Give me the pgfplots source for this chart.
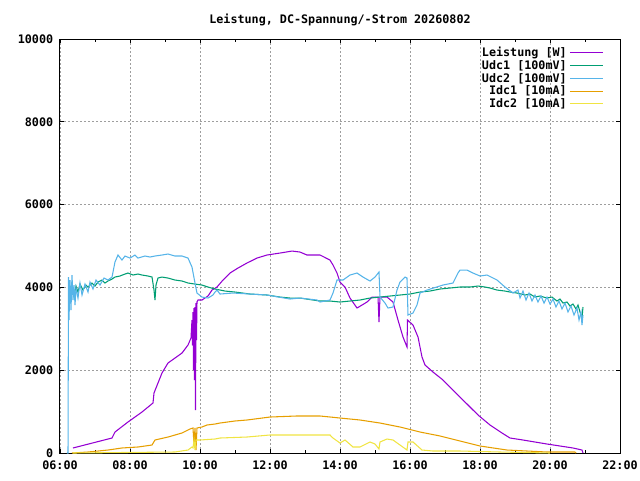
\documentclass[border=0pt]{standalone}
\usepackage{fontspec}
\setmainfont{DejaVu Sans Mono}[UprightFont=* Bold]
\usepackage{pgfplots}
\pgfplotsset{compat=1.18}
\definecolor{cP}{HTML}{9400D3}
\definecolor{cG}{HTML}{009E73}
\definecolor{cB}{HTML}{56B4E9}
\definecolor{cO}{HTML}{E69F00}
\definecolor{cY}{HTML}{F0E442}
\begin{document}
\fontsize{8.8pt}{10pt}\selectfont
\begin{tikzpicture}
\path[use as bounding box] (0,0) rectangle (480pt,360pt);
\begin{axis}[
  at={(45pt,20.25pt)}, anchor=south west,
  scale only axis, width=420pt, height=310.5pt,
  xmin=6, xmax=22, ymin=0, ymax=10000,
  scaled y ticks=false,
  xtick={6,8,10,12,14,16,18,20,22},
  xticklabels={06:00,08:00,10:00,12:00,14:00,16:00,18:00,20:00,22:00},
  minor xtick={7,9,11,13,15,17,19,21},
  ytick={0,2000,4000,6000,8000,10000},
  yticklabels={0,2000,4000,6000,8000,10000},
  tick align=inside,
  major tick length=3pt, minor tick length=2pt,
  every tick/.style={black, line width=0.6pt},
  grid=major,
  major grid style={black!38, dash pattern=on 1.5pt off 1.5pt, line width=0.6pt},
  axis line style={line width=0.75pt},
  tick label style={font=\fontsize{8.8pt}{10pt}\selectfont},
  xticklabel style={yshift=-3pt},
  yticklabel style={xshift=-2pt},
  /pgf/number format/assume math mode=true,
  title={Leistung, DC-Spannung/-Strom 20260802},
  title style={at={(0.5,1)}, anchor=center, yshift=8.25pt, font=\fontsize{8.8pt}{10pt}\selectfont},
  legend style={at={(1,1)}, anchor=north east, xshift=-9pt, yshift=-2pt, draw=none, fill=none,
    font=\fontsize{8.8pt}{10pt}\selectfont, row sep=-2.5pt},
  legend cell align=right,
  legend plot pos=right,
  legend image code/.code={\draw[#1, line width=0.75pt] (0pt,0pt) -- (25pt,0pt);},
  every axis plot/.append style={line width=0.8pt},
]
\addplot[cP] coordinates {
(6.371,121)(7.486,362)(7.571,507)(7.943,749)(8.343,990)(8.657,1208)(8.686,1449)(8.914,1932)(9.086,2174)(9.286,2294)(9.486,2415)(9.657,2608)(9.743,2777)(9.771,3212)(9.786,2600)(9.8,3400)(9.814,2000)(9.829,3500)(9.843,1763)(9.857,3526)(9.871,1038)(9.886,3622)(9.9,2729)(9.914,3650)(9.943,3695)(10.057,3695)(10.229,3792)(10.343,3936)(10.486,4009)(10.657,4178)(10.857,4347)(11.086,4468)(11.343,4589)(11.629,4709)(11.914,4782)(12.286,4830)(12.629,4878)(12.857,4854)(13.057,4782)(13.429,4782)(13.714,4661)(13.8,4540)(13.914,4347)(14.0,4130)(14.143,4009)(14.286,3743)(14.486,3502)(14.629,3574)(14.771,3647)(14.914,3767)(15.086,3767)(15.114,3164)(15.143,3767)(15.343,3767)(15.514,3647)(15.657,3212)(15.8,2801)(15.914,2560)(15.929,3212)(16.086,3091)(16.229,2801)(16.343,2318)(16.429,2125)(16.657,1956)(16.943,1763)(17.229,1521)(17.429,1352)(17.943,918)(18.286,676)(18.629,483)(18.857,362)(19.229,314)(19.914,217)(20.657,121)(20.914,72)(20.943,0)
};
\addlegendentry{Leistung [W]}
\addplot[cG] coordinates {
(6.286,3936)(6.343,4106)(6.4,3792)(6.457,4033)(6.514,3888)(6.571,4081)(6.657,3936)(6.743,4057)(6.8,4009)(6.914,4106)(7.0,4033)(7.086,4130)(7.2,4178)(7.286,4106)(7.371,4154)(7.486,4202)(7.571,4250)(7.714,4275)(7.857,4323)(7.943,4347)(8.086,4299)(8.229,4323)(8.343,4299)(8.514,4275)(8.629,4250)(8.686,3936)(8.714,3695)(8.743,4057)(8.8,4226)(8.914,4250)(9.086,4226)(9.286,4178)(9.486,4154)(9.657,4106)(9.857,4081)(10.057,4057)(10.229,4009)(10.429,3961)(10.714,3912)(11.0,3888)(11.429,3840)(11.914,3816)(12.286,3767)(12.571,3743)(12.857,3743)(13.229,3695)(13.429,3671)(13.714,3671)(14.0,3647)(14.286,3671)(14.571,3695)(14.857,3743)(15.143,3767)(15.429,3792)(15.714,3816)(16.0,3840)(16.286,3888)(16.571,3912)(16.857,3961)(17.143,3985)(17.429,4009)(17.714,4009)(17.943,4033)(18.143,4009)(18.286,3985)(18.486,3936)(18.714,3912)(18.857,3888)(19.057,3864)(19.286,3816)(19.429,3840)(19.571,3767)(19.714,3792)(19.914,3743)(20.057,3767)(20.2,3671)(20.286,3719)(20.371,3622)(20.486,3647)(20.571,3550)(20.657,3598)(20.743,3478)(20.8,3574)(20.857,3405)(20.914,3260)(20.943,3526)
};
\addlegendentry{Udc1 [100mV]}
\addplot[cB] coordinates {
(6.2,0)(6.229,0)(6.243,4250)(6.257,3212)(6.286,4178)(6.314,3453)(6.343,4299)(6.371,3695)(6.4,4057)(6.429,3574)(6.457,3985)(6.514,3743)(6.571,4106)(6.629,3816)(6.714,4081)(6.8,3888)(6.857,4130)(6.943,3961)(7.029,4178)(7.143,4057)(7.257,4226)(7.371,4178)(7.486,4250)(7.571,4613)(7.657,4782)(7.771,4661)(7.857,4758)(8.0,4709)(8.143,4782)(8.229,4709)(8.429,4758)(8.571,4734)(8.714,4758)(8.914,4782)(9.086,4806)(9.286,4758)(9.486,4758)(9.657,4709)(9.771,4492)(9.857,4106)(9.914,3864)(10.057,3767)(10.229,3743)(10.371,3816)(10.429,3888)(10.486,3936)(10.571,3840)(10.943,3864)(11.429,3840)(11.914,3816)(12.571,3719)(12.857,3743)(13.343,3695)(13.429,3647)(13.714,3695)(13.8,3864)(13.914,4178)(14.086,4178)(14.286,4299)(14.486,4347)(14.657,4250)(14.857,4154)(15.0,4250)(15.114,4371)(15.143,3767)(15.286,3622)(15.371,3502)(15.514,3526)(15.629,3936)(15.714,4130)(15.857,4250)(15.914,4226)(15.943,3333)(16.086,3381)(16.2,3574)(16.286,3864)(16.486,3936)(16.943,4057)(17.229,4106)(17.371,4347)(17.429,4419)(17.629,4419)(17.8,4347)(18.0,4275)(18.2,4299)(18.486,4178)(18.714,4009)(18.943,3864)(19.086,3936)(19.143,3743)(19.229,3912)(19.314,3695)(19.4,3864)(19.486,3671)(19.571,3816)(19.657,3647)(19.743,3792)(19.829,3622)(19.914,3767)(20.0,3598)(20.086,3719)(20.171,3526)(20.257,3671)(20.343,3478)(20.429,3622)(20.514,3405)(20.6,3550)(20.686,3333)(20.771,3502)(20.829,3212)(20.886,3405)(20.914,3091)(20.943,3333)
};
\addlegendentry{Udc2 [100mV]}
\addplot[cO] coordinates {
(6.343,0)(6.8,24)(7.371,72)(7.771,121)(8.229,145)(8.629,193)(8.714,314)(9.086,386)(9.486,483)(9.714,580)(9.8,604)(9.829,193)(9.857,604)(9.886,72)(9.914,604)(10.057,628)(10.2,676)(10.429,700)(10.571,724)(11.0,773)(11.343,797)(12.0,869)(12.771,894)(13.429,894)(14.0,845)(14.571,797)(15.143,724)(15.714,628)(16.286,507)(16.857,411)(17.429,290)(18.0,169)(18.771,72)(19.343,48)(19.914,24)(20.714,24)(20.743,0)
};
\addlegendentry{Idc1 [10mA]}
\addplot[cY] coordinates {
(6.371,0)(9.286,24)(9.657,72)(9.771,145)(9.8,121)(9.829,314)(9.857,72)(9.886,314)(10.0,314)(10.429,338)(10.571,362)(11.343,386)(12.0,435)(13.714,435)(13.8,362)(14.0,241)(14.143,314)(14.371,145)(14.571,145)(14.857,266)(15.0,217)(15.114,97)(15.143,266)(15.343,338)(15.514,314)(15.714,193)(15.914,72)(15.943,266)(16.086,266)(16.343,72)(16.657,48)(17.429,48)(18.571,24)(20.0,0)
};
\addlegendentry{Idc2 [10mA]}
\end{axis}
\end{tikzpicture}
\end{document}
